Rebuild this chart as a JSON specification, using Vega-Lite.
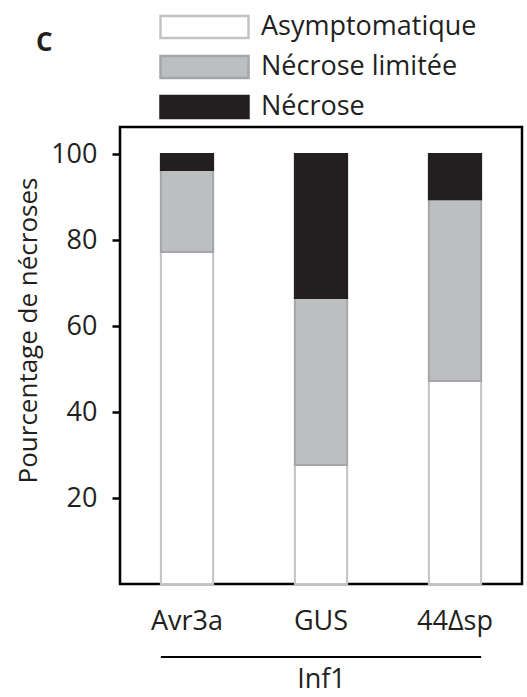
{
  "$schema": "https://vega.github.io/schema/vega-lite/v6.json",
  "autosize": "none",
  "width": 402,
  "height": 457,
  "padding": {"left": 120, "top": 127, "right": 5, "bottom": 113},
  "background": "white",
  "config": {
    "font": "Open Sans",
    "view": {"stroke": "black", "strokeWidth": 2.5}
  },
  "title": {
    "text": "C",
    "anchor": "start",
    "frame": "group",
    "fontSize": 26,
    "fontWeight": "bold",
    "color": "#231f20",
    "dx": -84,
    "offset": 0,
    "dy": 73,
    "baseline": "alphabetic"
  },
  "layer": [
    {
      "data": {
        "values": [
          {"gene": "Avr3a", "classe": "Asymptomatique", "ordre": 1, "pct": 77.2},
          {"gene": "Avr3a", "classe": "Nécrose limitée", "ordre": 2, "pct": 19.1},
          {"gene": "Avr3a", "classe": "Nécrose", "ordre": 3, "pct": 3.7},
          {"gene": "GUS", "classe": "Asymptomatique", "ordre": 1, "pct": 27.7},
          {"gene": "GUS", "classe": "Nécrose limitée", "ordre": 2, "pct": 38.8},
          {"gene": "GUS", "classe": "Nécrose", "ordre": 3, "pct": 33.5},
          {"gene": "44Δsp", "classe": "Asymptomatique", "ordre": 1, "pct": 47.2},
          {"gene": "44Δsp", "classe": "Nécrose limitée", "ordre": 2, "pct": 42.3},
          {"gene": "44Δsp", "classe": "Nécrose", "ordre": 3, "pct": 10.5}
        ]
      },
      "mark": {"type": "bar", "strokeWidth": 2},
      "encoding": {
        "x": {
          "field": "gene",
          "type": "nominal",
          "scale": {"domain": ["Avr3a", "GUS", "44Δsp"], "paddingInner": 0.61, "paddingOuter": 0.305},
          "axis": {
            "labelAngle": 0,
            "labelFontSize": 27,
            "labelColor": "#231f20",
            "labelPadding": 24,
            "ticks": false,
            "domain": false,
            "title": "Inf1",
            "titleFontSize": 27,
            "titleFontWeight": "normal",
            "titleColor": "#231f20",
            "titlePadding": 32
          }
        },
        "y": {
          "field": "pct",
          "type": "quantitative",
          "stack": "zero",
          "scale": {"domain": [0, 106.3], "nice": false, "zero": true},
          "axis": {
            "values": [20, 40, 60, 80, 100],
            "grid": false,
            "domain": false,
            "tickSize": 8,
            "tickWidth": 2.5,
            "tickColor": "black",
            "labelPadding": 15,
            "labelFontSize": 27,
            "labelColor": "#231f20",
            "title": "Pourcentage de nécroses",
            "titleFontSize": 26,
            "titleFontWeight": "normal",
            "titleColor": "#231f20",
            "titleAngle": -90,
            "titleX": -92,
            "titleY": 203,
            "titleAlign": "center",
            "titleBaseline": "middle"
          }
        },
        "order": {"field": "ordre", "type": "quantitative", "sort": "ascending"},
        "fill": {
          "field": "classe",
          "type": "nominal",
          "scale": {
            "domain": ["Asymptomatique", "Nécrose limitée", "Nécrose"],
            "range": ["#ffffff", "#bcbec0", "#231f20"]
          },
          "legend": {
            "title": null,
            "orient": "none",
            "legendX": 61,
            "legendY": -123.5,
            "symbolType": "M-2,-0.5L2,-0.5L2,0.5L-2,0.5Z",
            "symbolSize": 1936,
            "symbolStrokeWidth": 2.5,
            "symbolOpacity": 1,
            "labelFontSize": 27,
            "labelColor": "#231f20",
            "labelOffset": 33,
            "labelLimit": 300,
            "rowPadding": -6.5
          }
        },
        "stroke": {
          "field": "classe",
          "type": "nominal",
          "scale": {
            "domain": ["Asymptomatique", "Nécrose limitée", "Nécrose"],
            "range": ["#c2c3c6", "#a4a6a9", "#231f20"]
          },
          "legend": null
        }
      }
    },
    {
      "data": {"values": [{"debut": "Avr3a", "fin": "44Δsp", "niveau": -17}]},
      "mark": {"type": "rule", "color": "black", "strokeWidth": 2},
      "encoding": {
        "x": {"field": "debut", "type": "nominal", "bandPosition": 0},
        "x2": {"field": "fin", "bandPosition": 1},
        "y": {"field": "niveau", "type": "quantitative"}
      }
    }
  ]
}
